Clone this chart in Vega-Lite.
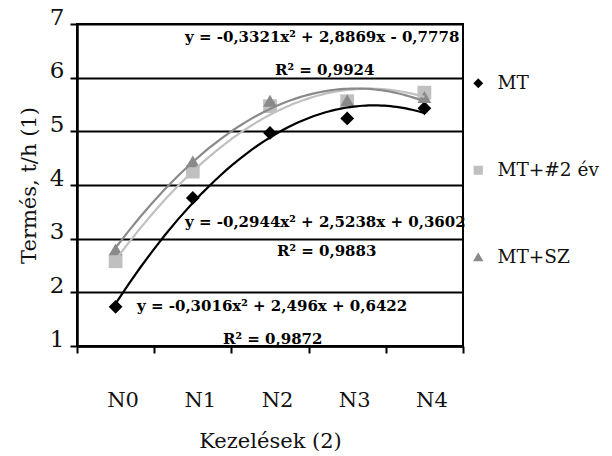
{
  "$schema": "https://vega.github.io/schema/vega-lite/v6.json",
  "width": 386,
  "height": 322,
  "autosize": {"type": "none"},
  "padding": {"left": 77, "top": 24, "right": 149, "bottom": 110},
  "background": "white",
  "config": {
    "font": "DejaVu Serif",
    "view": {"stroke": "black", "strokeWidth": 2},
    "axis": {
      "domainColor": "black",
      "domainWidth": 2.5,
      "tickColor": "black",
      "tickWidth": 2,
      "tickSize": 7,
      "labelColor": "#111111",
      "titleColor": "#111111",
      "titleFontWeight": "normal"
    }
  },
  "datasets": {
    "points": [
      {"series": "MT", "treatment": "N0", "x": 0, "y": 1.73},
      {"series": "MT", "treatment": "N1", "x": 1, "y": 3.76},
      {"series": "MT", "treatment": "N2", "x": 2, "y": 4.97},
      {"series": "MT", "treatment": "N3", "x": 3, "y": 5.24},
      {"series": "MT", "treatment": "N4", "x": 4, "y": 5.43},
      {"series": "MT+#2 év", "treatment": "N0", "x": 0, "y": 2.58},
      {"series": "MT+#2 év", "treatment": "N1", "x": 1, "y": 4.25},
      {"series": "MT+#2 év", "treatment": "N2", "x": 2, "y": 5.47},
      {"series": "MT+#2 év", "treatment": "N3", "x": 3, "y": 5.56},
      {"series": "MT+#2 év", "treatment": "N4", "x": 4, "y": 5.72},
      {"series": "MT+SZ", "treatment": "N0", "x": 0, "y": 2.8},
      {"series": "MT+SZ", "treatment": "N1", "x": 1, "y": 4.44},
      {"series": "MT+SZ", "treatment": "N2", "x": 2, "y": 5.57},
      {"series": "MT+SZ", "treatment": "N3", "x": 3, "y": 5.58},
      {"series": "MT+SZ", "treatment": "N4", "x": 4, "y": 5.64}
    ],
    "labels": [
      {"x": 0.899, "y": 6.67, "text": "y = -0,3321x² + 2,8869x - 0,7778"},
      {"x": 2.065, "y": 6.05, "text": "R² = 0,9924"},
      {"x": 0.899, "y": 3.223, "text": "y = -0,2944x² + 2,5238x + 0,3602"},
      {"x": 2.09, "y": 2.677, "text": "R² = 0,9883"},
      {"x": 0.277, "y": 1.658, "text": "y = -0,3016x² + 2,496x + 0,6422"},
      {"x": 1.391, "y": 1.038, "text": "R² = 0,9872"}
    ]
  },
  "resolve": {"scale": {"x": "independent"}, "axis": {"x": "independent"}},
  "layer": [
    {
      "data": {"name": "points"},
      "mark": {"type": "point", "filled": true, "size": 190, "opacity": 1},
      "encoding": {
        "x": {
          "field": "treatment",
          "type": "ordinal",
          "scale": {"type": "band", "domain": ["N0", "N1", "N2", "N3", "N4"], "paddingInner": 0, "paddingOuter": 0},
          "axis": {
            "title": "Kezelések (2)",
            "orient": "bottom",
            "tickBand": "extent",
            "labelAngle": 0,
            "grid": false,
            "labelFontSize": 21,
            "labelPadding": 36,
            "labelOffset": 7,
            "titleFontSize": 21,
            "titlePadding": 20
          }
        },
        "y": {
          "field": "y",
          "type": "quantitative",
          "scale": {"domain": [1, 7], "nice": false, "zero": false},
          "axis": {
            "title": "Termés, t/h (1)",
            "values": [1, 2, 3, 4, 5, 6, 7],
            "format": "d",
            "grid": true,
            "gridColor": "black",
            "gridWidth": 2,
            "gridOpacity": 1,
            "labelFontSize": 23,
            "labelPadding": 6,
            "labelBaseline": "alphabetic",
            "titleFontSize": 21,
            "titlePadding": 10
          }
        },
        "color": {
          "field": "series",
          "type": "nominal",
          "scale": {"domain": ["MT", "MT+#2 év", "MT+SZ"], "range": ["#000000", "#c0c0c0", "#8a8a8a"]},
          "legend": {
            "title": null,
            "orient": "none",
            "legendX": 392,
            "legendY": 50,
            "labelFontSize": 18.5,
            "labelColor": "#111111",
            "symbolSize": 60,
            "rowPadding": 68,
            "labelOffset": 10
          }
        },
        "shape": {
          "field": "series",
          "type": "nominal",
          "scale": {"domain": ["MT", "MT+#2 év", "MT+SZ"], "range": ["diamond", "square", "triangle-up"]}
        }
      }
    },
    {
      "data": {"name": "points"},
      "transform": [
        {"regression": "y", "on": "x", "groupby": ["series"], "method": "poly", "order": 2}
      ],
      "mark": {"type": "line", "strokeWidth": 2.2},
      "encoding": {
        "x": {"field": "x", "type": "quantitative", "scale": {"domain": [-0.5, 4.5], "nice": false, "zero": false}, "axis": null},
        "y": {"field": "y", "type": "quantitative"},
        "stroke": {
          "field": "series",
          "type": "nominal",
          "scale": {"domain": ["MT", "MT+#2 év", "MT+SZ"], "range": ["#000000", "#c0c0c0", "#8a8a8a"]},
          "legend": null
        }
      }
    },
    {
      "data": {"name": "labels"},
      "mark": {"type": "text", "align": "left", "baseline": "alphabetic", "fontSize": 15, "fontWeight": "bold", "color": "black"},
      "encoding": {
        "x": {"field": "x", "type": "quantitative", "scale": {"domain": [-0.5, 4.5], "nice": false, "zero": false}, "axis": null},
        "y": {"field": "y", "type": "quantitative"},
        "text": {"field": "text"}
      }
    }
  ]
}
